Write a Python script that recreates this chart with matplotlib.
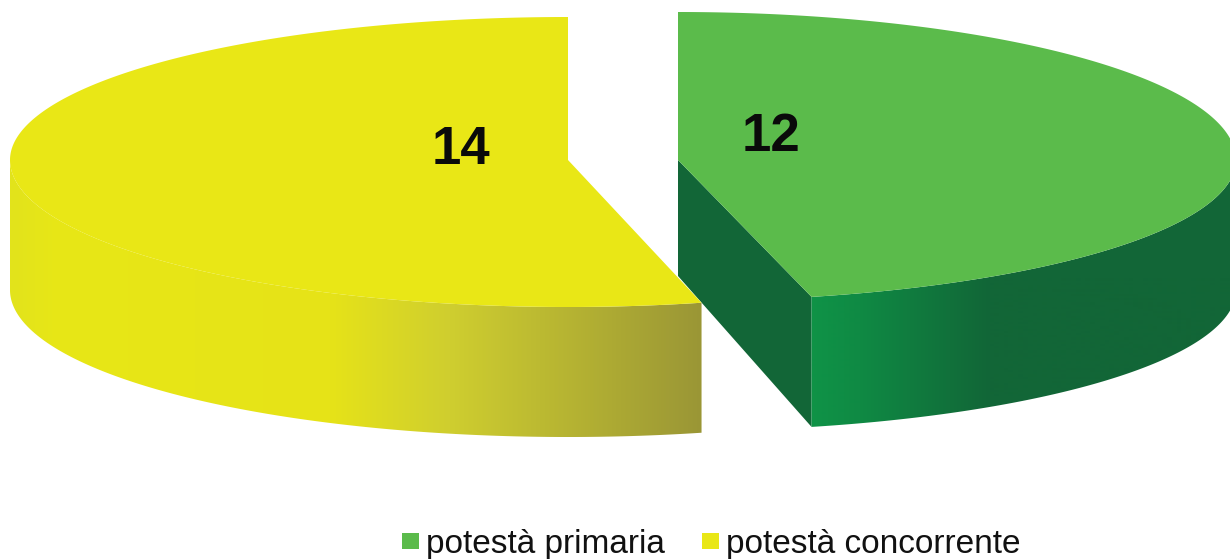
import numpy as np
import matplotlib
matplotlib.use('Agg')
import matplotlib.pyplot as plt
from matplotlib.colors import to_rgb
from matplotlib.patches import Polygon, Rectangle

labels = ['potestà primaria', 'potestà concorrente']
values = [12, 14]

plt.rcParams['font.family'] = ['Liberation Sans', 'DejaVu Sans']

# pixel geometry of the tilted pie
radius_x = 558
depth = 130
centers = [(678, 160), (568, 160)]
radius_top = [148, 143]     # back half of each ellipse
radius_front = [141, 147]   # front half of each ellipse
top_colors = ['#5BBB4B', '#E9E716']
inner_wall = '#126637'

# side wall shading, (x pixel, colour)
green_stops = [(812, '#0F9347'), (860, '#0F8A44'), (990, '#126637'), (1230, '#126637')]
yellow_stops = [(10, '#E2E31C'), (60, '#E8E716'), (330, '#E6E318'), (450, '#CFCE2F'),
                (702, '#9A9636')]

fig = plt.figure(figsize=(12.30, 5.59), dpi=100)
ax = fig.add_axes([0, 0, 1, 1])


def arc(i, start, end):
    # points on slice i between two angles (degrees, counter clockwise from east)
    t = np.radians(np.linspace(start, end, 300))
    cx, cy = centers[i]
    ry = np.where(np.sin(t) > 0, radius_top[i], radius_front[i])
    return np.column_stack([cx + radius_x * np.cos(t), cy - ry * np.sin(t)])


def wall(pts, stops, zorder):
    # gradient image clipped to the wall outline
    xs = np.arange(0, 1231)
    rgb = np.array([to_rgb(c) for _, c in stops])
    stop_x = [s[0] for s in stops]
    grad = np.stack([np.interp(xs, stop_x, rgb[:, k]) for k in range(3)], axis=-1)[np.newaxis, :, :]
    im = ax.imshow(grad, extent=(0, 1230, 559, 0), aspect='auto', zorder=zorder)
    clip = Polygon(pts, closed=True, transform=ax.transData)
    im.set_clip_path(clip)


shares = np.array(values) / sum(values) * 360
end_angle = 90 - shares[0]

# green slice (sweeps clockwise from the top)
green_arc = arc(0, 90, end_angle)
apex = np.array(centers[0])
ax.add_patch(Polygon([apex, green_arc[-1], green_arc[-1] + [0, depth], apex + [0, depth - 14]],
                     closed=True, fc=inner_wall, ec='none', zorder=1))
front = arc(0, end_angle, 0)
wall(np.vstack([front, (front + [0, depth])[::-1]]), green_stops, 2)
ax.add_patch(Polygon(np.vstack([apex, green_arc]), closed=True, fc=top_colors[0], ec='none', zorder=3))

# yellow slice (sweeps counter clockwise from the top)
yellow_arc = arc(1, 90, 90 + shares[1])
apex = np.array(centers[1])
front = arc(1, 180, 90 + shares[1])
wall(np.vstack([front, (front + [0, depth])[::-1]]), yellow_stops, 4)
ax.add_patch(Polygon(np.vstack([apex, yellow_arc]), closed=True, fc=top_colors[1], ec='none', zorder=5))

# value labels
ax.text(461, 150, str(values[1]), fontsize=38, fontweight='bold', ha='center', va='center', color='#0A0A0A', zorder=6)
ax.text(771, 137, str(values[0]), fontsize=38, fontweight='bold', ha='center', va='center', color='#0A0A0A', zorder=6)

# legend
legend_x = [402, 702]
for x, name, col in zip(legend_x, labels, top_colors):
    ax.add_patch(Rectangle((x, 533), 17, 16, fc=col, ec='none', zorder=6))
    ax.text(x + 24, 544, name, fontsize=24, ha='left', va='center', color='#111111', zorder=6)

ax.set_xlim(0, 1230)
ax.set_ylim(559, 0)
ax.axis('off')
fig.savefig('out.png', dpi=100, facecolor='white')
